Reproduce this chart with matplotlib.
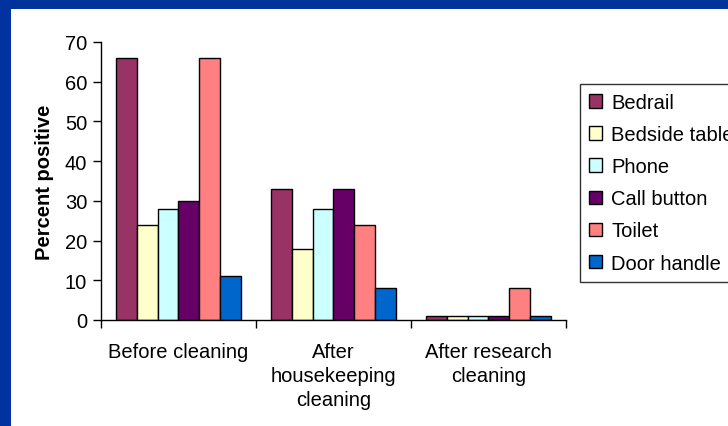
import numpy as np
import matplotlib.pyplot as plt
from matplotlib.patches import Rectangle

plt.rcParams['font.family'] = ['Liberation Sans', 'DejaVu Sans']

# percent of sites testing positive, by site and cleaning stage
stages = ["Before cleaning", "After\nhousekeeping\ncleaning", "After research\ncleaning"]
sites = ["Bedrail", "Bedside table", "Phone", "Call button", "Toilet", "Door handle"]
bedrail = [66, 33, 1]
bedside_table = [24, 18, 1]
phone = [28, 28, 1]
call_button = [30, 33, 1]
toilet = [66, 24, 8]
door_handle = [11, 8, 1]
colors = ["#993366", "#FFFFCC", "#CCFFFF", "#660066", "#FF8080", "#0066CC"]

series = [bedrail, bedside_table, phone, call_button, toilet, door_handle]

fig = plt.figure(figsize=(7.28, 4.27), dpi=100)
fig.patch.set_facecolor("white")

# blue slide frame along the top and left
fig.patches.append(Rectangle((0, 417 / 427), 1, 10 / 427, transform=fig.transFigure,
                             facecolor="#003399", edgecolor="none", zorder=0))
fig.patches.append(Rectangle((0, 0), 11 / 728, 1, transform=fig.transFigure,
                             facecolor="#0033A0", edgecolor="none", zorder=0))

ax = fig.add_axes([101 / 728, 1 - 321 / 427, 465 / 728, 278 / 427])

x = np.arange(len(stages))
bw = 0.135
for i, (vals, name, c) in enumerate(zip(series, sites, colors)):
    ax.bar(x + (i - 2.5) * bw, vals, width=bw, color=c, edgecolor="black",
           linewidth=1.0, label=name)

fs = 14.5
ax.set_xlim(-0.5, 2.5)
ax.set_ylim(0, 70)
ax.set_yticks(range(0, 71, 10))
ax.set_xticks([-0.5, 0.5, 1.5, 2.5])
ax.set_xticklabels([])
ax.set_xticks(x, minor=True)
ax.set_xticklabels(stages, minor=True, fontsize=fs, linespacing=1.33, va="top")
ax.tick_params(axis="x", which="minor", length=0, pad=16)
ax.tick_params(axis="x", which="major", length=6, direction="out", width=1)
ax.tick_params(axis="y", length=6, direction="out", width=1, labelsize=fs, pad=4)

for s in ["top", "right"]:
    ax.spines[s].set_visible(False)
ax.spines["left"].set_linewidth(1)
ax.spines["bottom"].set_linewidth(1)

ax.set_ylabel("Percent positive", fontsize=fs, fontweight="bold", labelpad=8)

leg = fig.legend(loc="upper left", bbox_to_anchor=(580 / 728, 1 - 85 / 427),
                 frameon=True, fancybox=False, edgecolor="black", fontsize=fs,
                 handlelength=0.65, handleheight=0.65, handletextpad=0.45,
                 labelspacing=0.65, borderpad=0.45, borderaxespad=0)
leg.get_frame().set_linewidth(1)

fig.savefig("out.png", dpi=100)
